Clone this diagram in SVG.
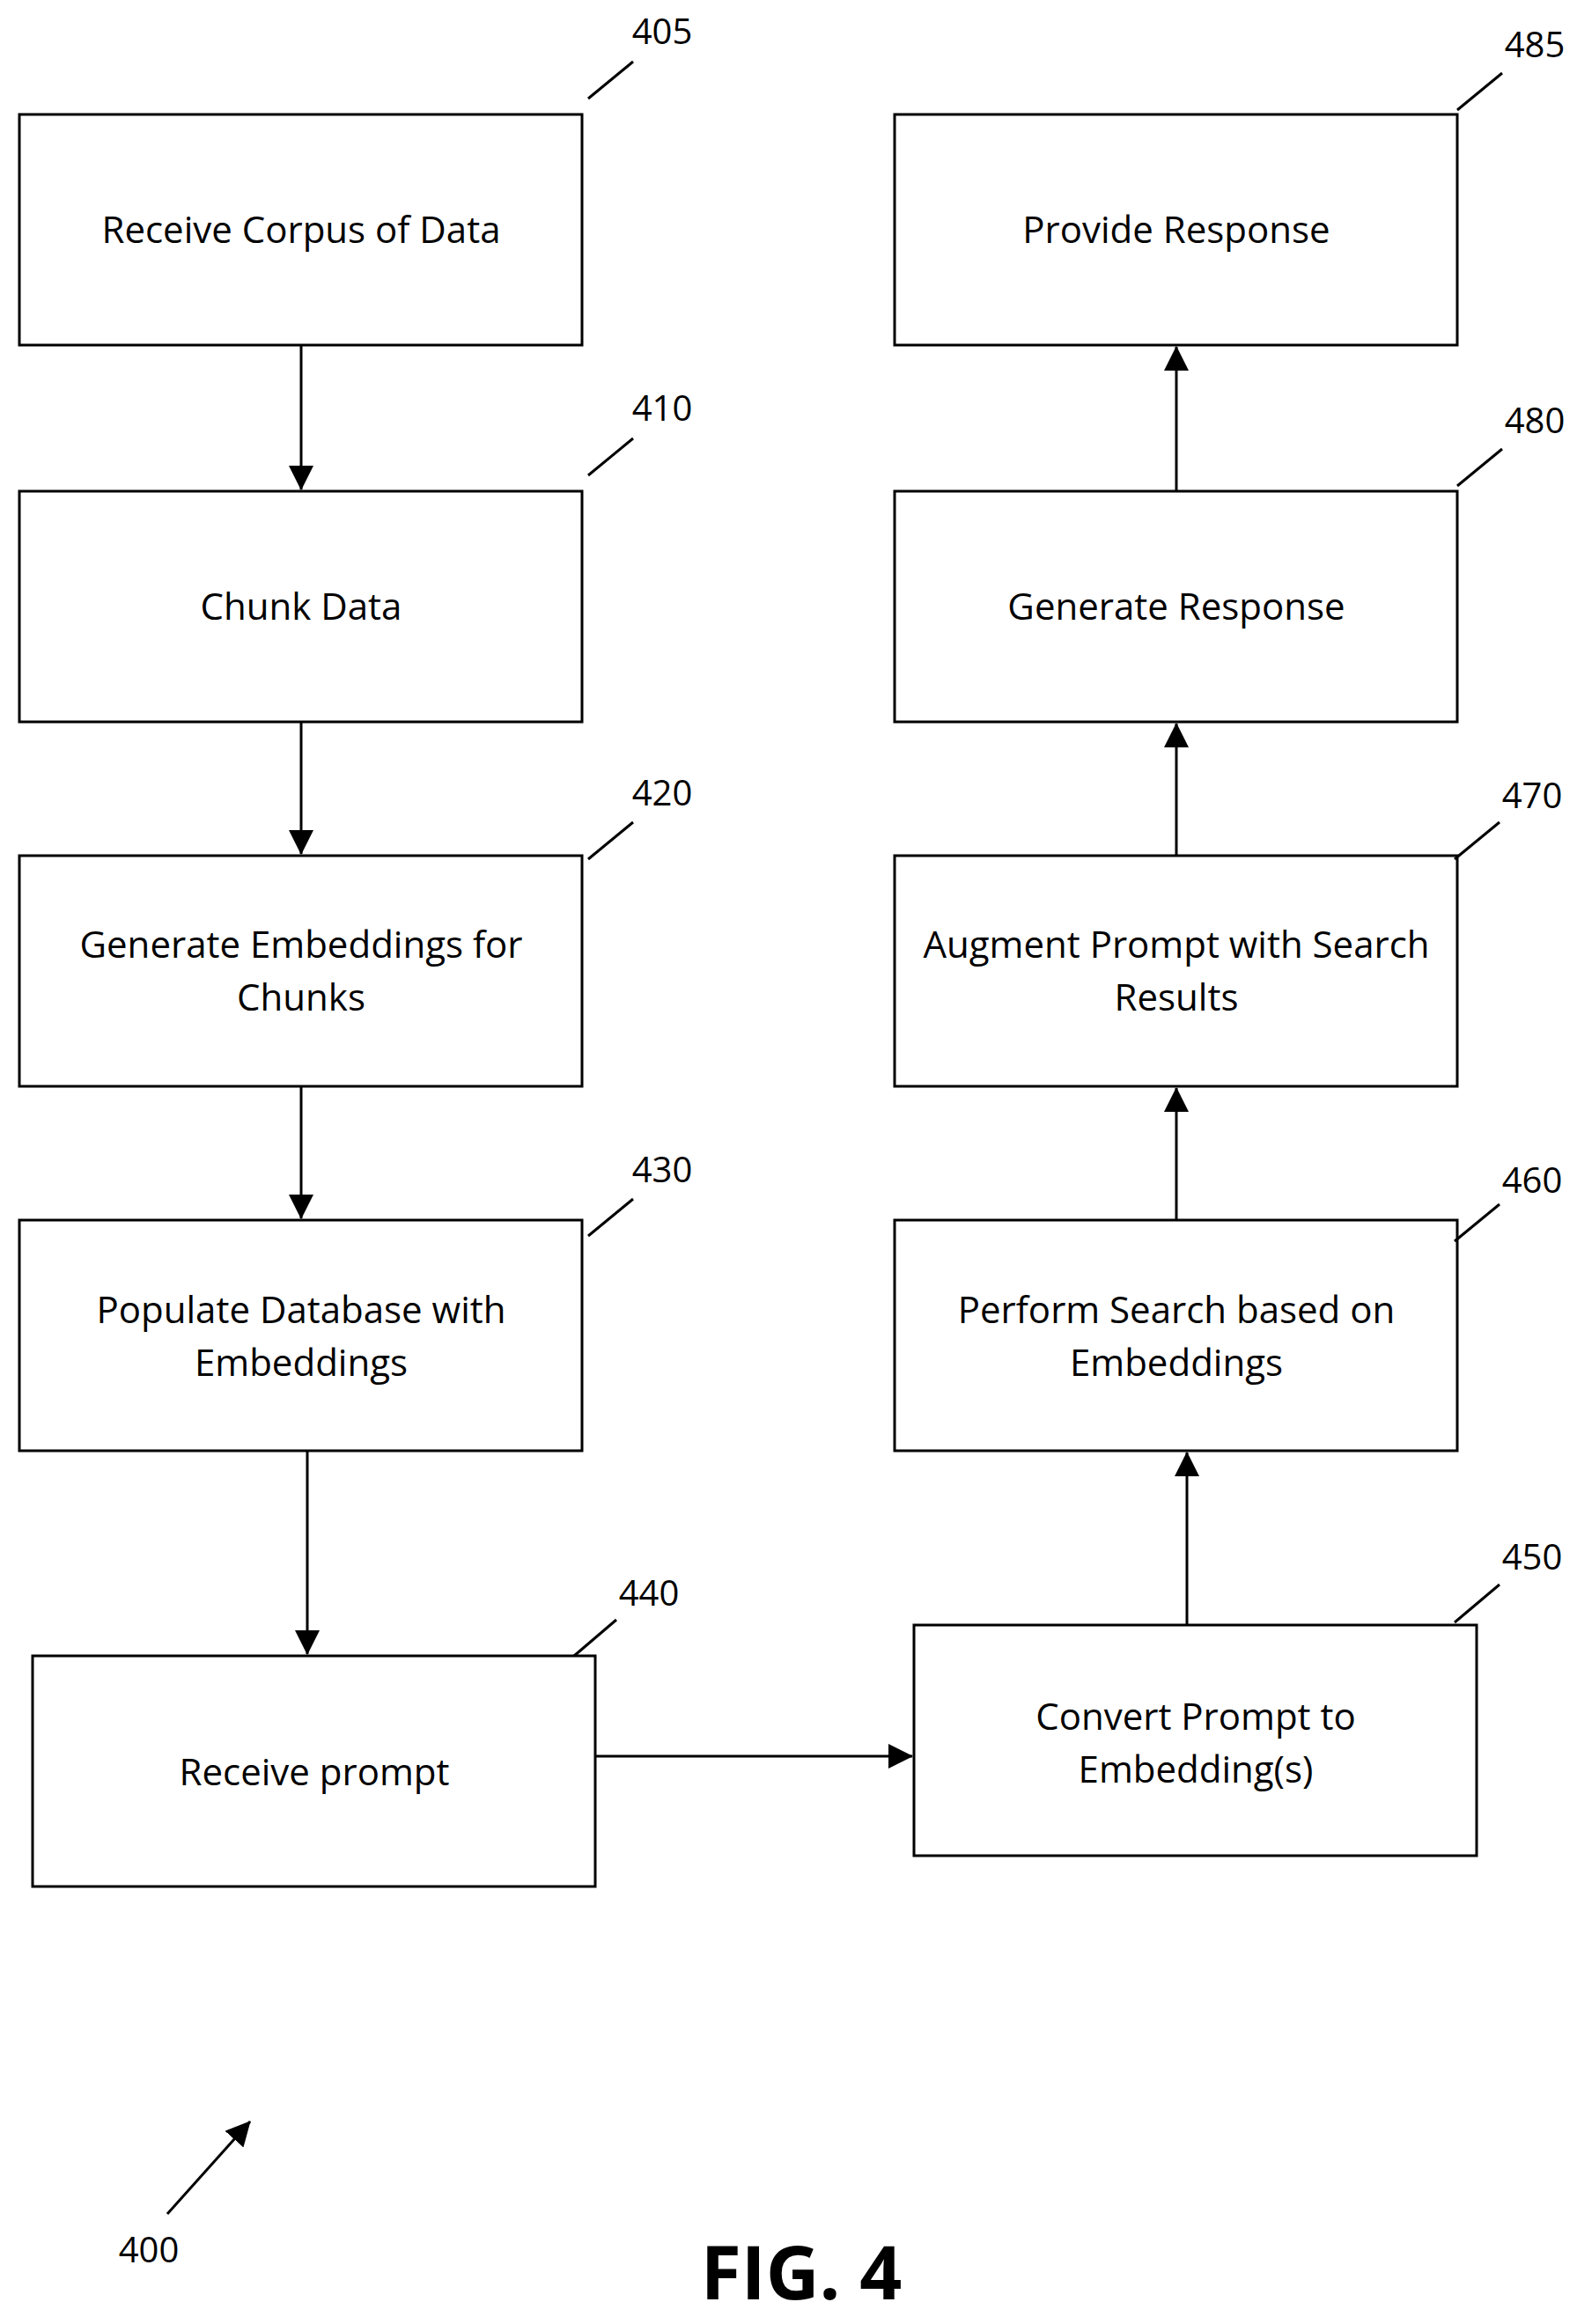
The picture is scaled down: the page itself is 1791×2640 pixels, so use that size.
<svg xmlns="http://www.w3.org/2000/svg" width="1791" height="2640" viewBox="0 0 1791 2640">
<defs>
<style>
.b{fill:#fff;stroke:#000;stroke-width:3}
.t{font-family:"Open Sans","Liberation Sans",sans-serif;font-size:42px;text-anchor:middle}
.n{font-family:"Open Sans","Liberation Sans",sans-serif;font-size:40px;text-anchor:middle}
.l{stroke:#000;stroke-width:3;fill:none}
</style>
<marker id="A" markerWidth="28" markerHeight="28" refX="27" refY="14" orient="auto" markerUnits="userSpaceOnUse"><path d="M0,0 L28,14 L0,28z"/></marker>
</defs>
<rect width="1791" height="2640" fill="#fff"/>
<g id="n405"><rect class="b" x="22" y="130" width="639" height="262"/><text class="t" x="342" y="276">Receive Corpus of Data</text><text class="n" x="752" y="50">405</text><path class="l" d="M668,112 L719,70"/></g>
<g id="n410"><rect class="b" x="22" y="558" width="639" height="262"/><text class="t" x="342" y="704">Chunk Data</text><text class="n" x="752" y="478">410</text><path class="l" d="M668,540 L719,498"/></g>
<g id="n420"><rect class="b" x="22" y="972" width="639" height="262"/><text class="t" x="342" y="1088">Generate Embeddings for</text><text class="t" x="342" y="1148">Chunks</text><text class="n" x="752" y="915">420</text><path class="l" d="M668,976 L719,934"/></g>
<g id="n430"><rect class="b" x="22" y="1386" width="639" height="262"/><text class="t" x="342" y="1503">Populate Database with</text><text class="t" x="342" y="1563">Embeddings</text><text class="n" x="752" y="1343">430</text><path class="l" d="M668,1404 L719,1362"/></g>
<g id="n440"><rect class="b" x="37" y="1881" width="639" height="262"/><text class="t" x="357" y="2028">Receive prompt</text><text class="n" x="737" y="1824">440</text><path class="l" d="M652,1881 L700,1840"/></g>
<g id="n450"><rect class="b" x="1038" y="1846" width="639" height="262"/><text class="t" x="1358" y="1965">Convert Prompt to</text><text class="t" x="1358" y="2025">Embedding(s)</text><text class="n" x="1740" y="1783">450</text><path class="l" d="M1652,1843 L1703,1800"/></g>
<g id="n460"><rect class="b" x="1016" y="1386" width="639" height="262"/><text class="t" x="1336" y="1503">Perform Search based on</text><text class="t" x="1336" y="1563">Embeddings</text><text class="n" x="1740" y="1355">460</text><path class="l" d="M1652,1410 L1703,1368"/></g>
<g id="n470"><rect class="b" x="1016" y="972" width="639" height="262"/><text class="t" x="1336" y="1088">Augment Prompt with Search</text><text class="t" x="1336" y="1148">Results</text><text class="n" x="1740" y="918">470</text><path class="l" d="M1652,976 L1703,934"/></g>
<g id="n480"><rect class="b" x="1016" y="558" width="639" height="262"/><text class="t" x="1336" y="704">Generate Response</text><text class="n" x="1743" y="492">480</text><path class="l" d="M1655,552 L1706,510"/></g>
<g id="n485"><rect class="b" x="1016" y="130" width="639" height="262"/><text class="t" x="1336" y="276">Provide Response</text><text class="n" x="1743" y="65">485</text><path class="l" d="M1655,125 L1706,83"/></g>
<g id="connectors">
<path class="l" d="M342,392 V556" marker-end="url(#A)"/>
<path class="l" d="M342,820 V970" marker-end="url(#A)"/>
<path class="l" d="M342,1234 V1384" marker-end="url(#A)"/>
<path class="l" d="M349,1648 V1879" marker-end="url(#A)"/>
<path class="l" d="M676,1995 H1036" marker-end="url(#A)"/>
<path class="l" d="M1348,1846 V1650" marker-end="url(#A)"/>
<path class="l" d="M1336,1386 V1236" marker-end="url(#A)"/>
<path class="l" d="M1336,972 V822" marker-end="url(#A)"/>
<path class="l" d="M1336,558 V394" marker-end="url(#A)"/>
<path class="l" d="M190,2515 L284,2410" marker-end="url(#A)"/>
</g>
<text class="n" x="169" y="2570">400</text>
<text x="910" y="2612" font-family="Open Sans,Liberation Sans,sans-serif" font-weight="bold" font-size="84" text-anchor="middle">FIG. 4</text>
</svg>
